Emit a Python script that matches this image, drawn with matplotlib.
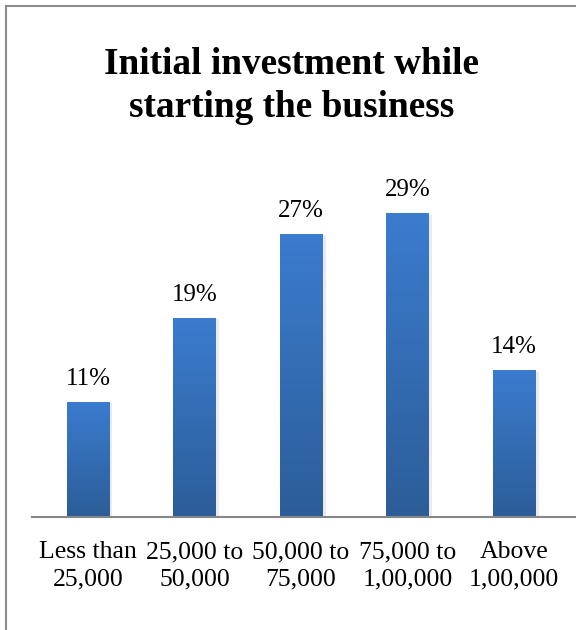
import matplotlib.pyplot as plt
import numpy as np
from matplotlib.lines import Line2D

categories = ["Less than\n25,000", "25,000 to\n50,000", "50,000 to\n75,000",
              "75,000 to\n1,00,000", "Above\n1,00,000"]
shares = [11, 19, 27, 29, 14]
title = "Initial investment while\nstarting the business"

plt.rcParams["font.family"] = ["Liberation Serif", "DejaVu Serif"]

fig = plt.figure(figsize=(5.76, 6.3), dpi=100)
ax = fig.add_axes([31.5 / 576, 113 / 630, 1 - 31.5 / 576, 346 / 630])

x = np.arange(len(shares))
bars = ax.bar(x, shares, width=0.4, color="none", zorder=2)

# vertical gradient fill, lighter at the top
grad = np.linspace(0, 1, 256).reshape(-1, 1)
cmap = plt.matplotlib.colors.LinearSegmentedColormap.from_list(
    "bar", ["#2c5d98", "#3b7ccf"])
for b, v in zip(bars, shares):
    x0 = b.get_x()
    # soft shadow to the right
    ax.bar(x0 + b.get_width() / 2 + 0.03, v, width=0.4, bottom=-0.15,
           color="#000000", alpha=0.08, zorder=1)
    im = ax.imshow(grad, extent=[x0, x0 + b.get_width(), 0, v], origin="lower",
                   cmap=cmap, aspect="auto", zorder=2)
    im.set_clip_path(b)
    ax.text(b.get_x() + b.get_width() / 2, v + 2.2, f"{v}%",
            ha="center", va="center", fontsize=18, color="#000000")

ax.set_xlim(-0.53, 4.58)
ax.set_ylim(0, 33)
ax.set_xticks(x)
ax.set_xticklabels(categories, fontsize=18.5, linespacing=1.28)
ax.tick_params(axis="x", length=0, pad=17.5)
ax.set_yticks([])
for side in ("top", "right", "left"):
    ax.spines[side].set_visible(False)
ax.spines["bottom"].set_color("#868686")
ax.spines["bottom"].set_linewidth(1.5)

fig.text(292 / 576, 1 - 86 / 630, title, ha="center", va="center",
         fontsize=26.8, fontweight="bold", linespacing=1.26)

# chart frame: only the top and left edges fall inside the image
fig.add_artist(Line2D([6 / 576, 6 / 576], [0, 1 - 6 / 630],
                      transform=fig.transFigure, color="#8c8c8c", lw=1.5))
fig.add_artist(Line2D([6 / 576, 1], [1 - 6 / 630, 1 - 6 / 630],
                      transform=fig.transFigure, color="#8c8c8c", lw=1.5))

fig.savefig("out.png", dpi=100)
